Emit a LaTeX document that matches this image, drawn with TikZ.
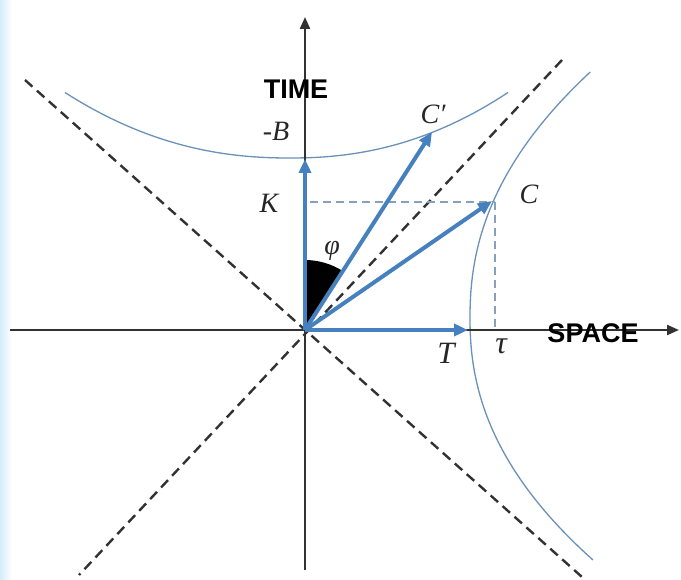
\documentclass[tikz,border=0pt]{standalone}
\usepackage{fontspec}
\setmainfont{Liberation Serif}
\newfontfamily\axisfont{Liberation Sans}
\usetikzlibrary{arrows.meta}
\definecolor{vec}{RGB}{70,128,190}
\definecolor{hyp}{RGB}{105,145,185}
\definecolor{guide}{RGB}{135,160,188}
\definecolor{axisc}{RGB}{50,50,50}
\definecolor{edgeblue}{RGB}{214,236,250}
\tikzset{
  axisline/.style={draw=axisc, line width=2.2pt, -{Triangle[length=12pt,width=10pt]}},
  coneline/.style={draw=axisc, line width=2.4pt, dash pattern=on 10pt off 6pt},
  hypline/.style={draw=hyp, line width=1.3pt},
  vecarrow/.style={draw=vec, line width=4pt, -{Triangle[length=14pt,width=12pt]}},
  guideline/.style={draw=guide, line width=2pt, dash pattern=on 8pt off 5pt},
  axislabel/.style={font=\axisfont\bfseries\fontsize{27}{30}\selectfont, text=black, inner sep=0pt},
  symlabel/.style={font=\fontsize{28}{30}\selectfont\itshape, text=black!85, inner sep=0pt}
}
\begin{document}
\begin{tikzpicture}[x=1pt,y=-1pt]
\useasboundingbox (0,0) rectangle (681,580);
\fill[left color=edgeblue, right color=white] (0,0) rectangle (12,580);
% coordinates
\coordinate (O) at (305,330);
\coordinate (Ttop) at (305,17);
\coordinate (Tbot) at (305,570);
\coordinate (Sleft) at (10,330);
\coordinate (Sright) at (679,330);
\coordinate (UL) at (25,80);
\coordinate (DR) at (582,577);
\coordinate (UR) at (562,60);
\coordinate (DL) at (79,575);
\coordinate (Kt) at (305,159);
\coordinate (Cpt) at (432,132);
\coordinate (Ct) at (492,201);
\coordinate (Tt) at (468,330);
\coordinate (Hk) at (310,202);
\coordinate (Hv) at (495,202);
\coordinate (Vb) at (495,330);
% light cone
\draw[coneline] (UL) -- (DR);
\draw[coneline] (UR) -- (DL);
% upper hyperbola (time-like)
\draw[hypline]
  plot[domain=-225:-0.5, samples=50] ({290+\x}, {158-11.0*pow(abs(\x)/100,2.2)})
  -- plot[domain=0.5:218, samples=50] ({290+\x}, {158-11.8*pow(abs(\x)/100,2.2)});
% right hyperbola (space-like)
\draw[hypline]
  plot[domain=-246:-0.5, samples=60] ({470+16.6*pow(abs(\x)/100,2.2)}, {318+\x})
  -- plot[domain=0.5:242, samples=60] ({470+17.6*pow(abs(\x)/100,2.2)}, {318+\x});
% axes
\draw[axisline] (Tbot) -- (Ttop);
\draw[axisline] (Sleft) -- (Sright);
% guides
\draw[guideline] (Hk) -- (Hv);
\draw[guideline] (Hv) -- (Vb);
% angle wedge
\fill[black] (O) -- (305,260) arc[start angle=-90, end angle=-57.3, radius=70] -- cycle;
% vectors
\draw[vecarrow] (O) -- (Kt);
\draw[vecarrow] (O) -- (Cpt);
\draw[vecarrow] (O) -- (Ct);
\draw[vecarrow] (O) -- (Tt);
% labels
\node[axislabel] (time) at (296,89) {TIME};
\node[axislabel] (space) at (593,333) {SPACE};
\node[symlabel] (B) at (276,131) {\upshape-\itshape B};
\node[symlabel] (K) at (269,203) {K};
\node[symlabel] (Cp) at (433,114) {C′};
\node[symlabel] (C) at (529,194) {C};
\node[symlabel] (phi) at (332,251) {φ};
\node[symlabel, font=\fontsize{31}{33}\selectfont\itshape] (T) at (446,353) {T};
\node[symlabel, font=\fontsize{32}{33}\selectfont\itshape] (tau) at (501,346) {τ};
\end{tikzpicture}
\end{document}
